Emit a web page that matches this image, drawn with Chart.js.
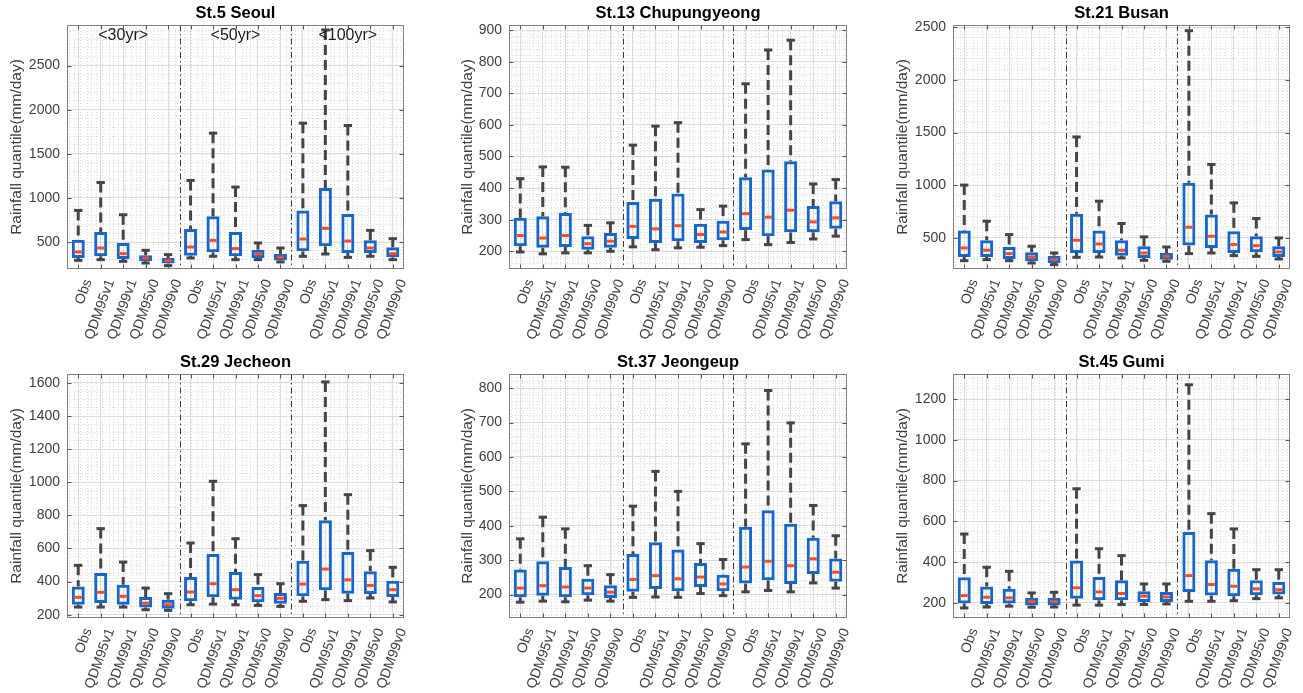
<!DOCTYPE html>
<html>
<head>
<meta charset="utf-8">
<script src="https://cdn.jsdelivr.net/npm/chart.js@4.4.0/dist/chart.umd.min.js"></script>
<style>
  html, body { margin: 0; padding: 0; background: #fff; }
  #wrap { position: relative; width: 1303px; height: 693px; overflow: hidden; }
  #wrap canvas { position: absolute; }
</style>
</head>
<body>
<div id="wrap"></div>
<script>
// categories
const methods = ['Obs', 'QDM95v1', 'QDM99v1', 'QDM95v0', 'QDM99v0'];
const periods = ['<30yr>', '<50yr>', '<100yr>'];
const labels = periods.flatMap(() => methods);
const separators = [5.5, 10.5];

// St.5 Seoul (upper cap, Q3, median, Q1, lower cap)
const seoulHi  = [858, 1175, 809, 406, 357,   1198, 1734, 1123, 489, 432,   1847, 2904, 1821, 632, 538];
const seoulQ3  = [526, 613, 489, 349, 319,    647, 791, 613, 413, 364,      858, 1111, 817, 519, 440];
const seoulMed = [387, 432, 368, 319, 289,    443, 519, 425, 364, 330,      534, 655, 511, 432, 368];
const seoulQ1  = [319, 338, 308, 281, 255,    345, 383, 338, 319, 289,      394, 451, 375, 375, 326];
const seoulLo  = [292, 300, 281, 262, 232,    319, 338, 300, 300, 274,      338, 364, 326, 338, 300];
const seoulTicks = [500, 1000, 1500, 2000, 2500];

// St.13 Chupungyeong
const chuHi  = [430, 467, 466, 282, 290,   536, 596, 607, 332, 343,   730, 837, 868, 413, 427];
const chuQ3  = [306, 311, 321, 248, 258,   356, 366, 383, 287, 297,   434, 459, 485, 343, 358];
const chuMed = [250, 242, 250, 224, 232,   279, 271, 281, 253, 261,   319, 308, 330, 293, 306];
const chuQ1  = [216, 211, 214, 205, 211,   239, 226, 232, 226, 235,   267, 248, 260, 260, 271];
const chuLo  = [198, 192, 195, 195, 200,   214, 205, 211, 213, 218,   237, 221, 228, 239, 248];
const chuTicks = [200, 300, 400, 500, 600, 700, 800, 900];

// St.21 Busan
const busanHi  = [1002, 659, 532, 421, 357,   1459, 849, 637, 510, 414,   2468, 1198, 833, 684, 500];
const busanQ3  = [570, 478, 414, 363, 332,    729, 570, 478, 421, 357,    1024, 722, 563, 516, 421];
const busanMed = [405, 383, 351, 319, 294,    478, 443, 383, 357, 325,    602, 516, 437, 427, 367];
const busanQ1  = [319, 319, 300, 278, 262,    357, 357, 332, 310, 294,    427, 405, 357, 363, 319];
const busanLo  = [284, 294, 284, 262, 246,    316, 319, 310, 287, 278,    351, 357, 332, 325, 300];
const busanTicks = [500, 1000, 1500, 2000, 2500];

// St.29 Jecheon
const jecHi  = [498, 720, 518, 361, 327,   633, 1006, 659, 442, 387,   859, 1606, 925, 587, 486];
const jecQ3  = [371, 452, 381, 307, 291,   428, 567, 458, 367, 331,   526, 770, 579, 462, 405];
const jecMed = [305, 335, 311, 270, 260,   337, 387, 351, 315, 299,   385, 476, 411, 377, 351];
const jecQ1  = [260, 270, 260, 244, 236,   281, 305, 291, 275, 266,   311, 347, 327, 325, 307];
const jecLo  = [246, 246, 246, 230, 226,   260, 264, 260, 256, 250,   281, 291, 285, 301, 277];
const jecTicks = [200, 400, 600, 800, 1000, 1200, 1400, 1600];

// St.37 Jeongeup
const jeoHi  = [362, 425, 391, 284, 258,   457, 558, 500, 348, 302,   638, 793, 699, 459, 371];
const jeoQ3  = [273, 297, 280, 246, 227,   318, 352, 331, 292, 258,   397, 445, 406, 365, 305];
const jeoMed = [219, 226, 222, 219, 207,   244, 255, 246, 251, 231,   280, 297, 284, 304, 265];
const jeoQ1  = [192, 197, 192, 198, 190,   208, 216, 210, 222, 210,   232, 242, 231, 260, 237];
const jeoLo  = [178, 181, 179, 184, 181,   192, 193, 192, 203, 197,   208, 212, 208, 234, 219];
const jeoTicks = [200, 300, 400, 500, 600, 700, 800];

// St.45 Gumi
const gumiHi  = [538, 375, 355, 249, 252,   760, 466, 432, 293, 293,   1270, 638, 563, 363, 363];
const gumiQ3  = [326, 281, 270, 225, 225,   408, 327, 311, 257, 254,   548, 409, 368, 311, 303];
const gumiMed = [236, 228, 225, 208, 208,   274, 254, 246, 233, 229,   334, 290, 282, 269, 265];
const gumiQ1  = [197, 195, 197, 187, 189,   220, 213, 213, 205, 205,   254, 236, 233, 238, 241];
const gumiLo  = [175, 180, 184, 179, 180,   189, 189, 192, 192, 195,   208, 208, 211, 221, 225];
const gumiTicks = [200, 400, 600, 800, 1000, 1200];

const FONT = '"Liberation Sans", Arial, Helvetica, sans-serif';
const BOX_BLUE = '#1666cc';
const MED_RED = '#ff4a1c';
const WHISKER = '#454545';
const MAJOR = '#dcdcdc';
const MINOR = '#dadada';

// panel grid
const colLeft = [0, 434, 868];
const colWidth = [434, 434, 435];
const rowTop = [0, 346];
const rowHeight = [346, 347];

const stations = [
  { id: 'p0', title: 'St.5 Seoul', hi: seoulHi, q3: seoulQ3, med: seoulMed, q1: seoulQ1, lo: seoulLo, ticks: seoulTicks,
    min: 194, max: 2960, step: 500, minor: 100, col: 0, row: 0, plot: [67, 404, 25, 269], ylabX: 17, periods: true },
  { id: 'p1', title: 'St.13 Chupungyeong', hi: chuHi, q3: chuQ3, med: chuMed, q1: chuQ1, lo: chuLo, ticks: chuTicks,
    min: 144, max: 916, step: 100, minor: 20, col: 1, row: 0, plot: [509, 847, 25, 269], ylabX: 468 },
  { id: 'p2', title: 'St.21 Busan', hi: busanHi, q3: busanQ3, med: busanMed, q1: busanQ1, lo: busanLo, ticks: busanTicks,
    min: 205, max: 2522, step: 500, minor: 100, col: 2, row: 0, plot: [953, 1290, 25, 269], ylabX: 903 },
  { id: 'p3', title: 'St.29 Jecheon', hi: jecHi, q3: jecQ3, med: jecMed, q1: jecQ1, lo: jecLo, ticks: jecTicks,
    min: 180, max: 1654, step: 200, minor: 50, col: 0, row: 1, plot: [67, 404, 374, 618], ylabX: 17 },
  { id: 'p4', title: 'St.37 Jeongeup', hi: jeoHi, q3: jeoQ3, med: jeoMed, q1: jeoQ1, lo: jeoLo, ticks: jeoTicks,
    min: 132, max: 841, step: 100, minor: 20, col: 1, row: 1, plot: [509, 847, 374, 618], ylabX: 468 },
  { id: 'p5', title: 'St.45 Gumi', hi: gumiHi, q3: gumiQ3, med: gumiMed, q1: gumiQ1, lo: gumiLo, ticks: gumiTicks,
    min: 126, max: 1323, step: 200, minor: 50, col: 2, row: 1, plot: [953, 1290, 374, 618], ylabX: 903 }
];
const byId = {};
stations.forEach(s => { byId[s.id] = s; });

// minor grid positions (5 subdivisions between categories)
const xMinorTicks = [];
for (let k = 3; k <= 77; k++) {
  if (k % 5 !== 0) xMinorTicks.push({ value: k * 0.2 });
}

function strokeLine(ctx, x1, y1, x2, y2) {
  ctx.beginPath();
  ctx.moveTo(x1, y1);
  ctx.lineTo(x2, y2);
  ctx.stroke();
}

// whiskers, medians, separators, frame
const boxParts = {
  id: 'boxParts',
  beforeDatasetsDraw(chart) {
    const st = byId[chart.canvas.id];
    const { ctx, chartArea } = chart;
    const y = chart.scales.y;
    const xm = chart.scales.xm;
    const bars = chart.getDatasetMeta(0).data;
    ctx.save();
    // group separators
    ctx.strokeStyle = '#3a3a3a';
    ctx.lineWidth = 1;
    ctx.setLineDash([6, 3, 1.5, 3]);
    separators.forEach(v => {
      const px = Math.round(xm.getPixelForValue(v)) + 0.5;
      strokeLine(ctx, px, chartArea.top, px, chartArea.bottom);
    });
    // dashed whiskers
    ctx.strokeStyle = WHISKER;
    ctx.lineWidth = 3;
    ctx.setLineDash([10, 5]);
    bars.forEach((bar, i) => {
      strokeLine(ctx, bar.x, y.getPixelForValue(st.hi[i]), bar.x, y.getPixelForValue(st.q3[i]));
      strokeLine(ctx, bar.x, y.getPixelForValue(st.lo[i]), bar.x, y.getPixelForValue(st.q1[i]));
    });
    // caps
    ctx.setLineDash([]);
    bars.forEach((bar, i) => {
      const cw = bar.width * 0.32;
      strokeLine(ctx, bar.x - cw, y.getPixelForValue(st.hi[i]), bar.x + cw, y.getPixelForValue(st.hi[i]));
      strokeLine(ctx, bar.x - cw, y.getPixelForValue(st.lo[i]), bar.x + cw, y.getPixelForValue(st.lo[i]));
    });
    ctx.restore();
  },
  afterDatasetsDraw(chart) {
    const st = byId[chart.canvas.id];
    const { ctx, chartArea } = chart;
    const x = chart.scales.x;
    const y = chart.scales.y;
    const bars = chart.getDatasetMeta(0).data;
    ctx.save();
    // medians
    ctx.strokeStyle = MED_RED;
    ctx.lineWidth = 3;
    bars.forEach((bar, i) => {
      const py = y.getPixelForValue(st.med[i]);
      strokeLine(ctx, bar.x - bar.width / 2 + 3, py, bar.x + bar.width / 2 - 3, py);
    });
    // axes box
    ctx.strokeStyle = '#808080';
    ctx.lineWidth = 1;
    const l = Math.round(chartArea.left) + 0.5, r = Math.round(chartArea.right) - 0.5;
    const t = Math.round(chartArea.top) + 0.5, b = Math.round(chartArea.bottom) - 0.5;
    ctx.strokeRect(l, t, r - l, b - t);
    // inward ticks
    ctx.strokeStyle = '#555';
    y.ticks.forEach((tk, i) => {
      const py = Math.round(y.getPixelForTick(i)) + 0.5;
      strokeLine(ctx, l, py, l + 4, py);
      strokeLine(ctx, r, py, r - 4, py);
    });
    x.ticks.forEach((tk, i) => {
      const px = Math.round(x.getPixelForTick(i)) + 0.5;
      strokeLine(ctx, px, b, px, b - 4);
      strokeLine(ctx, px, t, px, t + 4);
    });
    // period labels
    if (st.periods) {
      ctx.fillStyle = '#1a1a1a';
      ctx.font = '16px ' + FONT;
      ctx.textAlign = 'center';
      ctx.textBaseline = 'middle';
      periods.forEach((p, k) => {
        ctx.fillText(p, x.getPixelForValue(2 + 5 * k), chartArea.top + 11);
      });
    }
    ctx.restore();
  }
};

const wrap = document.getElementById('wrap');

stations.forEach(st => {
  const cl = colLeft[st.col], ct = rowTop[st.row];
  const cw = colWidth[st.col], chh = rowHeight[st.row];
  const canvas = document.createElement('canvas');
  canvas.id = st.id;
  canvas.width = cw;
  canvas.height = chh;
  canvas.style.left = cl + 'px';
  canvas.style.top = ct + 'px';
  canvas.style.width = cw + 'px';
  canvas.style.height = chh + 'px';
  wrap.appendChild(canvas);

  const [pl, pr, pt, pb] = st.plot;
  const yWidth = pl - cl;
  const padRight = cl + cw - pr;
  const xHeight = ct + chh - pb;
  const titleTop = st.row === 0 ? 4 : 7;
  const titleBottom = (pt - ct) - 19.8 - titleTop;
  const ylabPad = (st.ylabX - cl) - 9.3;

  // minor y grid positions, skipping the major ones
  const yMinorTicks = [];
  for (let v = Math.ceil(st.min / st.minor) * st.minor; v <= st.max; v += st.minor) {
    if (v % st.step !== 0) yMinorTicks.push({ value: v });
  }

  new Chart(canvas, {
    type: 'bar',
    data: {
      labels: labels,
      datasets: [{
        data: st.q1.map((v, i) => [v, st.q3[i]]),
        backgroundColor: 'rgba(255,255,255,0)',
        borderColor: BOX_BLUE,
        borderWidth: 3,
        borderSkipped: false,
        barPercentage: 0.58,
        categoryPercentage: 1
      }]
    },
    options: {
      responsive: false,
      animation: false,
      devicePixelRatio: 1,
      layout: { padding: { left: 0, right: padRight, top: 0, bottom: 0 } },
      plugins: {
        legend: { display: false },
        tooltip: { enabled: false },
        title: {
          display: true,
          text: st.title,
          fullSize: false,
          color: '#000',
          font: { family: FONT, size: 16.5, weight: 'bold' },
          padding: { top: titleTop, bottom: titleBottom }
        }
      },
      scales: {
        x: {
          type: 'category',
          position: 'bottom',
          offset: true,
          grid: { offset: false, color: MAJOR, drawTicks: false },
          border: { display: false },
          ticks: {
            minRotation: 70, maxRotation: 70, autoSkip: false,
            color: '#404040', padding: 8, labelOffset: 10,
            font: { family: FONT, size: 14 }
          },
          afterFit: s => { s.height = xHeight; }
        },
        xm: {
          type: 'linear',
          position: 'bottom',
          min: 0.5, max: 15.5,
          ticks: { display: false },
          grid: { drawTicks: false, color: MINOR },
          border: { display: false, dash: [1, 2] },
          afterBuildTicks: s => { s.ticks = xMinorTicks.slice(); },
          afterFit: s => { s.height = 0; }
        },
        y: {
          type: 'linear',
          position: 'left',
          min: st.min, max: st.max,
          grid: { color: MAJOR, drawTicks: false },
          border: { display: false },
          ticks: {
            color: '#404040', padding: 7,
            font: { family: FONT, size: 14 },
            callback: v => String(v)
          },
          afterBuildTicks: s => { s.ticks = st.ticks.map(v => ({ value: v })); },
          title: {
            display: true,
            text: 'Rainfall quantile(mm/day)',
            color: '#404040',
            font: { family: FONT, size: 15.5 },
            padding: { top: ylabPad, bottom: 0 }
          },
          afterFit: s => { s.width = yWidth; }
        },
        ym: {
          type: 'linear',
          position: 'left',
          min: st.min, max: st.max,
          ticks: { display: false },
          grid: { drawTicks: false, color: MINOR },
          border: { display: false, dash: [1, 2] },
          afterBuildTicks: s => { s.ticks = yMinorTicks.slice(); },
          afterFit: s => { s.width = 0; }
        }
      }
    },
    plugins: [boxParts]
  });
});
</script>
</body>
</html>
